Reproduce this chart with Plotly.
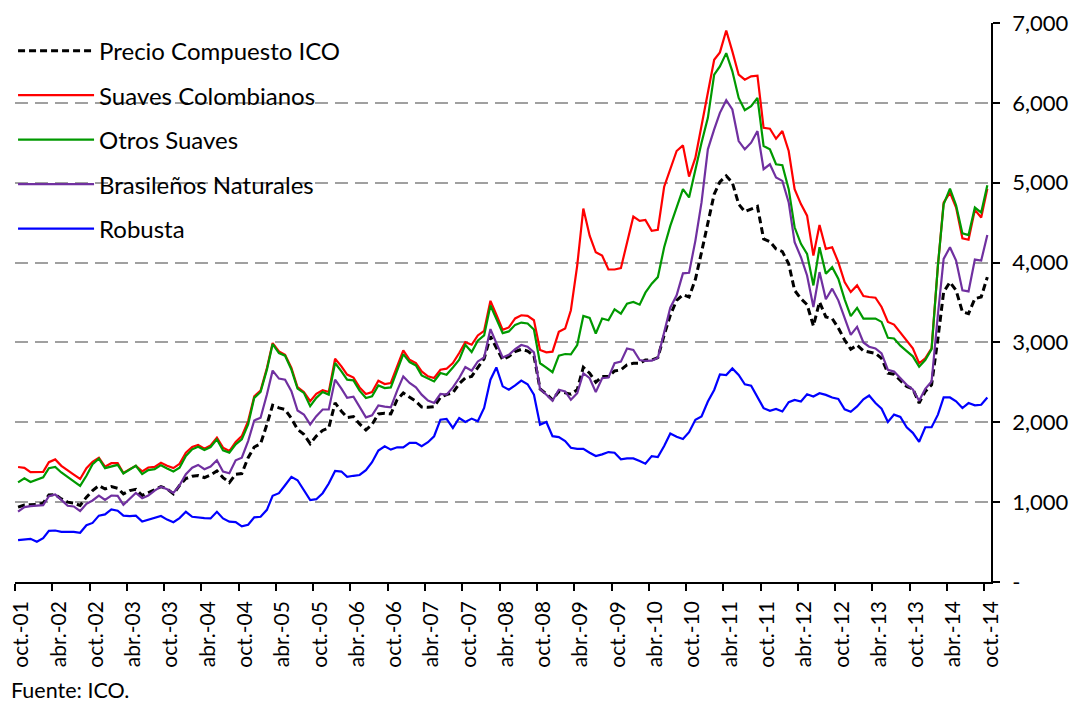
import pandas as pd
import plotly.graph_objects as go

# Monthly prices, oct-2001 .. oct-2014 (157 months)
ico = [938, 963, 967, 971, 988, 1091, 1095, 1041, 1000, 988, 959, 1062, 1145, 1207, 1165, 1194, 1174, 1103, 1145, 1161, 1083, 1120, 1165, 1194, 1165, 1103, 1210,
       1295, 1324, 1333, 1308, 1341, 1391, 1308, 1245, 1349, 1358, 1557, 1690, 1732, 1973, 2214, 2181, 2160, 2048, 1911, 1849, 1732, 1828, 1898, 1931, 2243, 2139, 2060,
       2071, 1979, 1904, 1971, 2104, 2112, 2104, 2283, 2367, 2312, 2262, 2192, 2187, 2196, 2312, 2346, 2371, 2483, 2554, 2575, 2679, 2796, 3075, 2929, 2783, 2825, 2885,
       2913, 2892, 2834, 2419, 2353, 2282, 2386, 2365, 2353, 2407, 2689, 2614, 2502, 2573, 2573, 2643, 2656, 2718, 2739, 2739, 2780, 2780, 2809, 3092,
       3340, 3527, 3598, 3569, 3790, 4130, 4483, 4857, 5011, 5086, 5002, 4732, 4637, 4670, 4703, 4296, 4263, 4171, 4138, 3984, 3652, 3548, 3473, 3207, 3506, 3319, 3299, 3182,
       3030, 2915, 2966, 2895, 2884, 2863, 2801, 2614, 2602, 2531, 2448, 2419, 2241, 2386, 2469, 3050, 3631, 3755, 3652, 3382, 3361, 3548, 3569, 3818]

colombianos = [1440, 1430, 1375, 1375, 1380, 1500, 1535, 1455, 1395, 1345, 1290, 1425, 1505, 1555, 1445, 1488, 1488, 1365, 1413, 1455, 1385, 1434, 1442, 1492, 1455, 1426, 1480,
               1620, 1690, 1715, 1669, 1711, 1807, 1682, 1640, 1753, 1827, 2015, 2326, 2397, 2680, 2992, 2888, 2846, 2680, 2439, 2380, 2264, 2356, 2401, 2380, 2796, 2701, 2597,
               2560, 2437, 2354, 2379, 2521, 2479, 2492, 2687, 2900, 2783, 2742, 2637, 2575, 2554, 2658, 2671, 2742, 2867, 3004, 2971, 3088, 3146, 3521, 3346, 3158, 3188, 3300,
               3340, 3332, 3278, 2905, 2876, 2884, 3133, 3174, 3403, 3963, 4676, 4336, 4129, 4087, 3913, 3913, 3930, 4253, 4577, 4523, 4535, 4398, 4411, 4950,
               5169, 5397, 5468, 5077, 5314, 5709, 6166, 6540, 6632, 6906, 6644, 6353, 6291, 6332, 6341, 5688, 5676, 5551, 5647, 5397, 4919, 4732, 4587, 4088, 4471, 4171, 4192, 4005,
               3755, 3631, 3714, 3581, 3569, 3560, 3444, 3257, 3224, 3125, 3029, 2925, 2739, 2801, 2925, 3963, 4751, 4876, 4689, 4303, 4286, 4660, 4564, 4925]

otros_suaves = [1248, 1298, 1252, 1281, 1310, 1426, 1442, 1372, 1310, 1260, 1203, 1331, 1475, 1545, 1426, 1450, 1467, 1360, 1413, 1455, 1351, 1401, 1413, 1463, 1421, 1384, 1430,
                1578, 1661, 1694, 1653, 1690, 1786, 1649, 1620, 1724, 1786, 1973, 2306, 2380, 2659, 2979, 2867, 2834, 2659, 2422, 2368, 2202, 2306, 2380, 2347, 2742, 2638, 2534,
                2525, 2396, 2304, 2325, 2462, 2429, 2437, 2646, 2854, 2754, 2712, 2587, 2546, 2512, 2617, 2596, 2687, 2783, 2971, 2879, 3021, 3088, 3462, 3296, 3117, 3138, 3220,
                3249, 3237, 3162, 2739, 2685, 2627, 2834, 2855, 2851, 2967, 3332, 3307, 3112, 3299, 3278, 3415, 3361, 3486, 3506, 3473, 3623, 3735, 3818, 4191,
                4460, 4691, 4919, 4816, 5169, 5501, 5813, 6353, 6457, 6623, 6395, 6062, 5909, 5958, 6062, 5460, 5418, 5231, 5219, 4919, 4442, 4234, 4109, 3714, 4192, 3860, 3943, 3797,
                3540, 3330, 3432, 3299, 3299, 3299, 3257, 3058, 3050, 2959, 2892, 2826, 2697, 2780, 2917, 3963, 4730, 4925, 4718, 4365, 4344, 4689, 4627, 4967]

brasilenos = [880, 938, 950, 955, 963, 1074, 1095, 1029, 955, 946, 888, 979, 1021, 1083, 1029, 1083, 1079, 967, 1041, 1116, 1050, 1083, 1145, 1194, 1161, 1116, 1210,
              1349, 1432, 1466, 1412, 1445, 1524, 1383, 1362, 1524, 1557, 1765, 2023, 2056, 2347, 2647, 2547, 2534, 2389, 2148, 2098, 1973, 2077, 2160, 2160, 2534, 2422, 2306,
              2321, 2200, 2062, 2087, 2212, 2196, 2187, 2396, 2575, 2492, 2437, 2346, 2271, 2242, 2354, 2346, 2437, 2554, 2692, 2646, 2762, 2812, 3167, 2992, 2812, 2846, 2915,
              2967, 2946, 2876, 2419, 2345, 2270, 2407, 2386, 2282, 2365, 2614, 2552, 2378, 2552, 2560, 2739, 2760, 2925, 2905, 2780, 2768, 2772, 2809, 3133,
              3435, 3590, 3865, 3872, 4275, 4753, 5418, 5668, 5875, 6033, 5917, 5522, 5418, 5501, 5647, 5169, 5231, 5065, 5023, 4753, 4254, 4067, 3839, 3444, 3881, 3540, 3673, 3527,
              3310, 3095, 3195, 3000, 2946, 2925, 2863, 2656, 2635, 2552, 2469, 2411, 2270, 2419, 2511, 3350, 4046, 4191, 4025, 3652, 3639, 4037, 4025, 4344]

robusta = [525, 529, 541, 504, 550, 640, 645, 628, 628, 628, 616, 711, 740, 831, 847, 909, 893, 831, 826, 831, 756, 777, 802, 826, 781, 748, 800,
           879, 817, 805, 800, 796, 879, 796, 755, 751, 696, 717, 809, 817, 904, 1079, 1112, 1212, 1316, 1274, 1141, 1025, 1037, 1112, 1233, 1391, 1383, 1316,
           1330, 1340, 1400, 1500, 1646, 1700, 1658, 1687, 1687, 1742, 1742, 1700, 1750, 1825, 2033, 2042, 1929, 2054, 2004, 2046, 2012, 2179, 2533, 2687, 2450, 2408, 2462,
           2523, 2477, 2345, 1971, 2004, 1826, 1814, 1764, 1681, 1668, 1668, 1619, 1577, 1598, 1627, 1619, 1536, 1548, 1548, 1515, 1482, 1577, 1565, 1702,
           1860, 1820, 1790, 1876, 2032, 2073, 2260, 2405, 2600, 2592, 2675, 2592, 2476, 2459, 2322, 2177, 2143, 2168, 2135, 2251, 2280, 2260, 2351, 2322, 2364, 2343, 2310, 2293,
           2163, 2132, 2198, 2288, 2335, 2241, 2170, 2004, 2096, 2067, 1938, 1868, 1756, 1938, 1938, 2096, 2311, 2311, 2262, 2179, 2241, 2212, 2220, 2311]

series_names = ["Precio Compuesto ICO", "Suaves Colombianos", "Otros Suaves",
                "Brasileños Naturales", "Robusta"]

y_tick_vals = [0, 1000, 2000, 3000, 4000, 5000, 6000, 7000]
y_tick_text = ["-", "1,000", "2,000", "3,000", "4,000", "5,000", "6,000", "7,000"]

months = pd.date_range("2001-10-01", "2014-10-01", freq="MS")
dates = months + pd.Timedelta(days=15)  # monthly averages, placed mid-month

tick_dates = pd.date_range("2001-10-01", "2014-10-01", freq="6MS")
tick_text = [("oct." if d.month == 10 else "abr.") + "-" + d.strftime("%y") for d in tick_dates]
# rotated labels sit just to the right of their tick marks, as in the source chart
label_dates = tick_dates + pd.Timedelta(days=32)

FONT = "Lato"
styles = [
    dict(color="black", width=3, dash="7px,4px"),
    dict(color="#FF0000", width=2.2),
    dict(color="#009900", width=2.2),
    dict(color="#7030A0", width=2.2),
    dict(color="#0000FF", width=2.2),
]
values = [ico, colombianos, otros_suaves, brasilenos, robusta]

fig = go.Figure()
for name, vals, st in zip(series_names, values, styles):
    fig.add_trace(go.Scatter(x=dates, y=vals, mode="lines", name=name, line=st,
                             legendgroup=name))

fig.update_layout(
    width=1080, height=704,
    margin=dict(l=7, r=97, t=15, b=130, autoexpand=False),
    paper_bgcolor="white", plot_bgcolor="white",
    font=dict(family=FONT, size=24, color="black"),
    showlegend=True,
    legend=dict(x=-0.002, y=0.990, xanchor="left", yanchor="top",
                bgcolor="rgba(0,0,0,0)", borderwidth=0,
                font=dict(family=FONT, size=24, color="black"),
                tracegroupgap=10.3, itemwidth=76),
    xaxis=dict(
        type="date",
        range=["2001-10-01", "2014-11-03"],
        tickmode="array", tickvals=label_dates, ticktext=tick_text,
        tickangle=-90, ticks="", ticklabeloverflow="allow",
        minor=dict(tickmode="array", tickvals=tick_dates, ticks="outside",
                   ticklen=7, tickwidth=1.5, tickcolor="black", showgrid=False),
        showline=True, linecolor="black", linewidth=1.5,
        showgrid=False, zeroline=False, automargin=False,
        tickfont=dict(family=FONT, size=21, color="black"),
        ticklabelstandoff=9,
    ),
    yaxis=dict(
        side="right",
        range=[0, 7000],
        tickmode="array", tickvals=y_tick_vals, ticktext=y_tick_text,
        ticks="outside", ticklen=7, tickwidth=1.5, tickcolor="black",
        ticklabeloverflow="allow",
        showline=True, linecolor="black", linewidth=1.5,
        showgrid=True, gridcolor="#A0A0A0", gridwidth=1.5, griddash="13px,7px",
        zeroline=False, automargin=False,
        tickfont=dict(family=FONT, size=22, color="black"),
        ticklabelstandoff=8,
    ),
)

fig.add_annotation(text="Fuente: ICO.", xref="paper", yref="paper",
                   x=-0.006, y=-0.193, xanchor="left", yanchor="middle",
                   showarrow=False, font=dict(family=FONT, size=21.5, color="black"))

fig.write_html("out.html")
